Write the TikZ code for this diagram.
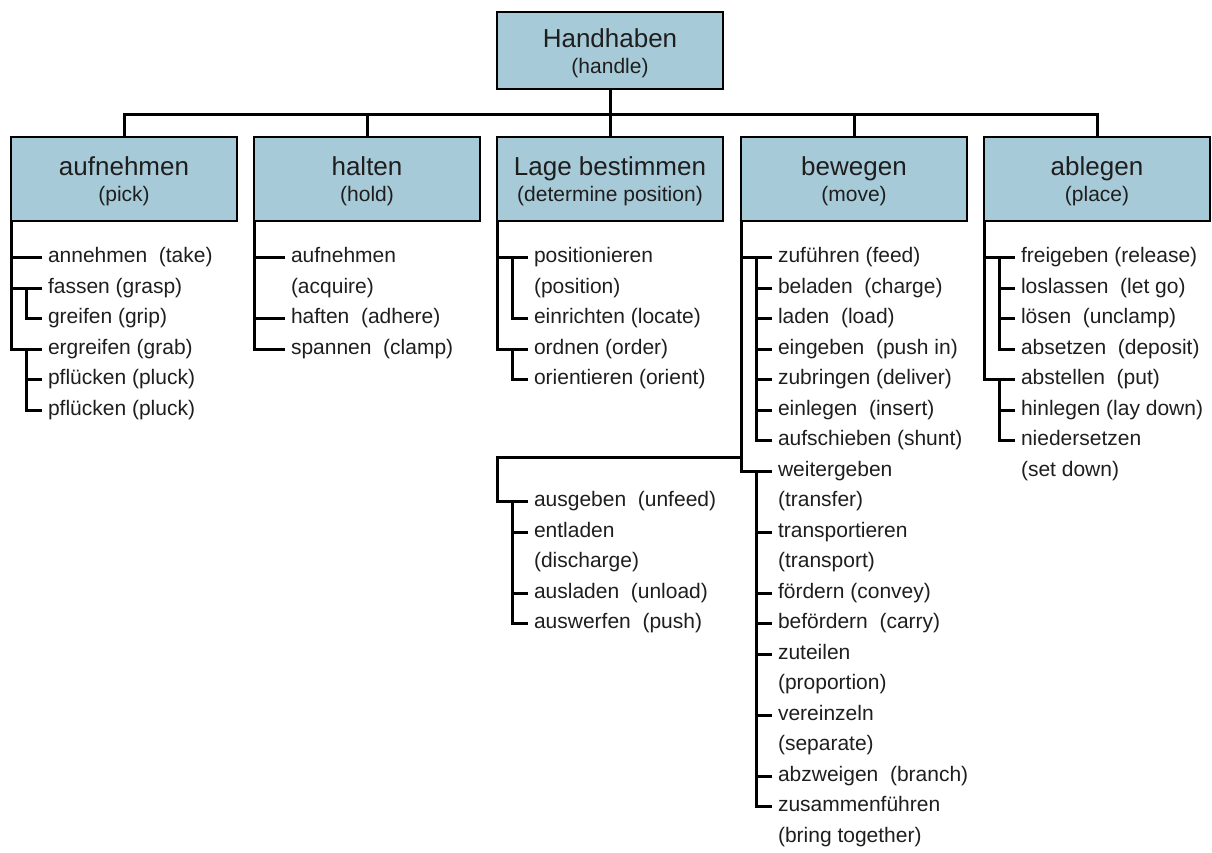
\documentclass[tikz,border=0pt]{standalone}
\usepackage{fontspec}
\setmainfont{Liberation Sans}
\definecolor{boxblue}{RGB}{167,202,216}
\definecolor{ink}{RGB}{30,30,30}
% second line of a heading box: the English gloss in a smaller size
\newcommand\engl[1]{{\fontsize{21}{26}\selectfont #1}}
% extra room above the heading text
\newcommand\lift{\rule{0pt}{24pt}}

\begin{document}
\begin{tikzpicture}[x=1pt,y=-1pt,
  wire/.style={line width=3pt, line join=miter},
  headbox/.style={draw=black, line width=2.8pt, fill=boxblue, minimum width=226pt,
    outer sep=0pt, inner sep=0pt, align=center, text=ink,
    font=\fontsize{26}{26}\selectfont},
  catbox/.style={headbox, minimum height=84pt},
  rootbox/.style={headbox, minimum height=77pt},
  entry/.style={anchor=west, inner xsep=6pt, inner ysep=0pt, outer sep=0pt,
    text height=15.3pt, text depth=4.4pt, text=ink,
    font=\fontsize{21}{25}\selectfont},
]
\useasboundingbox (0,0) rectangle (1212,852);

% ---------- heading boxes ----------
\node[rootbox] (root) at (610,50.5) {\lift Handhaben\\\engl{(handle)}};
\node[catbox] (c1) at (124,179) {\lift aufnehmen\\\engl{(pick)}};
\node[catbox] (c2) at (367,179) {\lift halten\\\engl{(hold)}};
\node[catbox] (c3) at (610,179) {\lift Lage bestimmen\\\engl{(determine position)}};
\node[catbox] (c4) at (854,179) {\lift bewegen\\\engl{(move)}};
\node[catbox] (c5) at (1097,179) {\lift ablegen\\\engl{(place)}};

\coordinate (bus) at (0,114);
\draw[wire] (root.south) -- (root.south |- bus);
\draw[wire] (c1.north) |- (c5.north |- bus) -- (c5.north);
\foreach \c in {c2,c3,c4} \draw[wire] (\c.north) -- (\c.north |- bus);

% ---------- aufnehmen ----------
\node[entry] (a1) at (42,257) {annehmen\ \ (take)};
\node[entry] (a2) at (42,288) {fassen (grasp)};
\node[entry] (a3) at (42,318) {greifen (grip)};
\node[entry] (a4) at (42,349) {ergreifen (grab)};
\node[entry] (a5) at (42,379) {pflücken (pluck)};
\node[entry] (a6) at (42,410) {pflücken (pluck)};
\draw[wire] (c1.south west) |- (a4.west);
\foreach \n in {a1,a2} \draw[wire] (\n.west) -- (\n.west -| c1.south west);
\draw[wire] ([xshift=-16pt]a2.west) |- (a3.west);
\draw[wire] ([xshift=-16pt]a4.west) |- (a6.west);
\draw[wire] (a5.west) -- ++(-16,0);

% ---------- halten ----------
\node[entry] (h1)  at (285,257) {aufnehmen};
\node[entry] (h1b) at (285,288) {(acquire)};
\node[entry] (h2)  at (285,318) {haften\ \ (adhere)};
\node[entry] (h3)  at (285,349) {spannen\ \ (clamp)};
\draw[wire] (c2.south west) |- (h3.west);
\foreach \n in {h1,h2} \draw[wire] (\n.west) -- (\n.west -| c2.south west);

% ---------- Lage bestimmen ----------
\node[entry] (l1)  at (528,257) {positionieren};
\node[entry] (l1b) at (528,288) {(position)};
\node[entry] (l2)  at (528,318) {einrichten (locate)};
\node[entry] (l3)  at (528,349) {ordnen (order)};
\node[entry] (l4)  at (528,379) {orientieren (orient)};
\draw[wire] (c3.south west) |- (l3.west);
\draw[wire] (l1.west) -- (l1.west -| c3.south west);
\draw[wire] ([xshift=-16pt]l1.west) |- (l2.west);
\draw[wire] ([xshift=-16pt]l3.west) |- (l4.west);

% ---------- bewegen ----------
\node[entry] (b1)   at (772,257) {zuführen (feed)};
\node[entry] (b2)   at (772,288) {beladen\ \ (charge)};
\node[entry] (b3)   at (772,318) {laden\ \ (load)};
\node[entry] (b4)   at (772,349) {eingeben\ \ (push in)};
\node[entry] (b5)   at (772,379) {zubringen (deliver)};
\node[entry] (b6)   at (772,410) {einlegen\ \ (insert)};
\node[entry] (b7)   at (772,440) {aufschieben (shunt)};
\node[entry] (b8)   at (772,471) {weitergeben};
\node[entry] (b8b)  at (772,501) {(transfer)};
\node[entry] (b9)   at (772,532) {transportieren};
\node[entry] (b9b)  at (772,562) {(transport)};
\node[entry] (b10)  at (772,593) {fördern (convey)};
\node[entry] (b11)  at (772,623) {befördern\ \ (carry)};
\node[entry] (b12)  at (772,654) {zuteilen};
\node[entry] (b12b) at (772,684) {(proportion)};
\node[entry] (b13)  at (772,715) {vereinzeln};
\node[entry] (b13b) at (772,745) {(separate)};
\node[entry] (b14)  at (772,776) {abzweigen\ \ (branch)};
\node[entry] (b15)  at (772,806) {zusammenführen};
\node[entry] (b15b) at (772,837) {(bring together)};
\draw[wire] (c4.south west) |- (b8.west);
\draw[wire] (b1.west) -- (b1.west -| c4.south west);
\draw[wire] ([xshift=-16pt]b1.west) |- (b7.west);
\foreach \n in {b2,b3,b4,b5,b6} \draw[wire] (\n.west) -- ++(-16,0);
\draw[wire] ([xshift=-16pt]b8.west) |- (b15.west);
\foreach \n in {b9,b10,b11,b12,b13,b14} \draw[wire] (\n.west) -- ++(-16,0);

% unloading group, branching off the bewegen trunk
\node[entry] (u1)  at (528,501) {ausgeben\ \ (unfeed)};
\node[entry] (u2)  at (528,532) {entladen};
\node[entry] (u2b) at (528,562) {(discharge)};
\node[entry] (u3)  at (528,593) {ausladen\ \ (unload)};
\node[entry] (u4)  at (528,623) {auswerfen\ \ (push)};
\coordinate (fork) at (c4.south west |- 0,457);
\draw[wire] (fork) -| (u1.west -| c3.south west) -- (u1.west);
\draw[wire] ([xshift=-16pt]u1.west) |- (u4.west);
\foreach \n in {u2,u3} \draw[wire] (\n.west) -- ++(-16,0);

% ---------- ablegen ----------
\node[entry] (p1)  at (1015,257) {freigeben (release)};
\node[entry] (p2)  at (1015,288) {loslassen\ \ (let go)};
\node[entry] (p3)  at (1015,318) {lösen\ \ (unclamp)};
\node[entry] (p4)  at (1015,349) {absetzen\ \ (deposit)};
\node[entry] (p5)  at (1015,379) {abstellen\ \ (put)};
\node[entry] (p6)  at (1015,410) {hinlegen (lay down)};
\node[entry] (p7)  at (1015,440) {niedersetzen};
\node[entry] (p7b) at (1015,471) {(set down)};
\draw[wire] (c5.south west) |- (p5.west);
\draw[wire] (p1.west) -- (p1.west -| c5.south west);
\draw[wire] ([xshift=-16pt]p1.west) |- (p4.west);
\foreach \n in {p2,p3} \draw[wire] (\n.west) -- ++(-16,0);
\draw[wire] ([xshift=-16pt]p5.west) |- (p7.west);
\draw[wire] (p6.west) -- ++(-16,0);
\end{tikzpicture}
\end{document}
